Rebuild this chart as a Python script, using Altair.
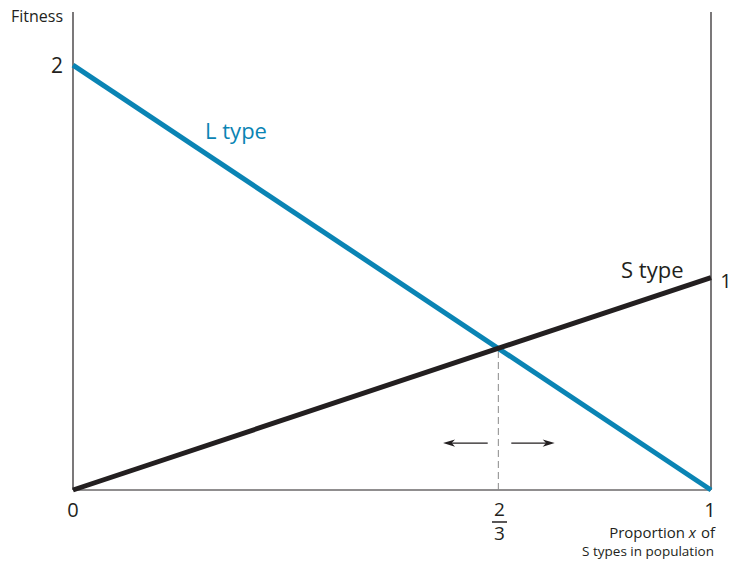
import altair as alt
import pandas as pd

# Fitness of each type as a function of the proportion x of S types
proportion = [0.0, 1.0]
fitness_L = [2.0, 0.0]
fitness_S = [0.0, 1.0]
equilibrium = 2 / 3  # where 2(1 - x) = x

BLUE = "#0a84b4"
INK = "#231f20"
FONT = "Open Sans"

xs = alt.Scale(domain=[0, 1])
ys = alt.Scale(domain=[0, 2.25])


def X(field="x"):
    return alt.X(f"{field}:Q", scale=xs, axis=None)


def Y(field="y"):
    return alt.Y(f"{field}:Q", scale=ys, axis=None)


def label(x, y, text, **style):
    df = pd.DataFrame({"x": [x], "y": [y], "t": [text]})
    base = dict(font=FONT, color=INK, baseline="middle", align="center")
    base.update(style)
    return alt.Chart(df).mark_text(**base).encode(x=X(), y=Y(), text="t:N")


lines_df = pd.DataFrame(
    {
        "x": proportion * 2,
        "y": fitness_L + fitness_S,
        "type": ["L"] * 2 + ["S"] * 2,
    }
)

lines = alt.Chart(lines_df).mark_line(strokeWidth=5, strokeCap="butt").encode(
    x=X(),
    y=Y(),
    color=alt.Color("type:N", scale=alt.Scale(domain=["L", "S"], range=[BLUE, INK]), legend=None),
    detail="type:N",
)

# frame: left axis, right axis, baseline
frame_df = pd.DataFrame(
    {"x": [0, 1, 0], "x2": [0, 1, 1], "y": [0, 0, 0], "y2": [2.25, 2.25, 0]}
)
frame = alt.Chart(frame_df).mark_rule(color=INK, strokeWidth=1.2).encode(
    x=X(), x2="x2:Q", y=Y(), y2="y2:Q"
)

# dashed drop line at the equilibrium
drop_df = pd.DataFrame({"x": [equilibrium], "y": [0.0], "y2": [equilibrium]})
drop = alt.Chart(drop_df).mark_rule(color="#8a8a8a", strokeWidth=1, strokeDash=[7, 4]).encode(
    x=X(), y=Y(), y2="y2:Q"
)

# direction arrows towards the equilibrium
arrow_y = 0.221
shafts_df = pd.DataFrame({"x": [0.586, 0.687], "x2": [0.650, 0.749], "y": [arrow_y, arrow_y]})
shafts = alt.Chart(shafts_df).mark_rule(color=INK, strokeWidth=1.3).encode(
    x=X(), x2="x2:Q", y=Y()
)
head_left = alt.Chart(pd.DataFrame({"x": [0.5894], "y": [arrow_y]})).mark_point(
    shape="M-1,0 L1,-0.6 L0.45,0 L1,0.6 Z", size=144, filled=True, color=INK, opacity=1
).encode(x=X(), y=Y())
head_right = alt.Chart(pd.DataFrame({"x": [0.7456], "y": [arrow_y]})).mark_point(
    shape="M1,0 L-1,-0.6 L-0.45,0 L-1,0.6 Z", size=144, filled=True, color=INK, opacity=1
).encode(x=X(), y=Y())

# axis numbers
num_2 = label(0.0, 2.0, "2", fontSize=21, align="right", dx=-10, dy=2)
num_0 = label(0.0, -0.127, "0", fontSize=20, baseline="alphabetic")
num_1 = label(1.0, -0.127, "1", fontSize=20, baseline="alphabetic", dx=-1)
num_1r = label(1.0, 1.0, "1", fontSize=20, dx=15, dy=4)

# the 2/3 fraction under the equilibrium
frac_num = label(equilibrium, -0.1224, "2", fontSize=19, baseline="alphabetic", dx=1)
frac_den = label(equilibrium, -0.2353, "3", fontSize=19, baseline="alphabetic", dx=1)
frac_bar = alt.Chart(pd.DataFrame({"x": [0.6567], "x2": [0.6803], "y": [-0.1506]})).mark_rule(
    color=INK, strokeWidth=1.5
).encode(x=X(), x2="x2:Q", y=Y())

# titles and series labels
fitness_title = label(0.0, 2.226, "Fitness", fontSize=16, align="right", dx=-10)
l_label = label(0.207, 1.685, "L type", fontSize=22, color=BLUE, align="left")
s_label = label(0.859, 1.031, "S type", fontSize=22, align="left")

x_title_a = label(1.0, -0.204, "Proportion", fontSize=15, align="right", dx=-26)
x_title_x = label(1.0, -0.204, "x", fontSize=15, fontStyle="italic", align="right", dx=-15)
x_title_b = label(1.0, -0.204, "of", fontSize=15, align="right", dx=4)
x_title_c = label(1.0, -0.290, "S types in population", fontSize=13.5, align="right", dx=3)

chart = alt.layer(
    frame, drop, lines, shafts, head_left, head_right,
    num_2, num_0, num_1, num_1r, frac_num, frac_den, frac_bar,
    fitness_title, l_label, s_label, x_title_a, x_title_x, x_title_b, x_title_c,
).properties(
    width=638,
    height=478,
    padding={"left": 73, "top": 12, "right": 21, "bottom": 73},
    autosize="none",
    background="white",
).configure_view(stroke=None)

chart.save("out.html", embed_options={"renderer": "svg", "actions": False})
